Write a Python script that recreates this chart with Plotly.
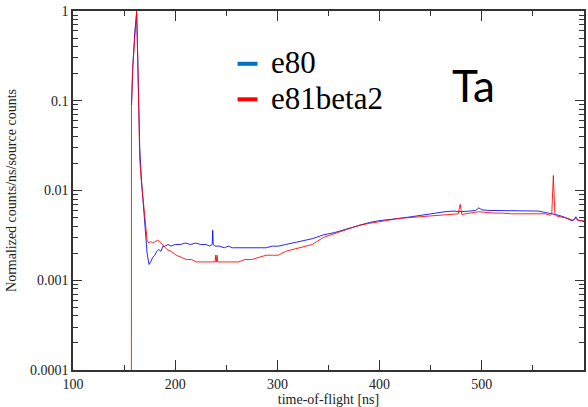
import plotly.graph_objects as go

# ---- data ----
tof_e80 = [157.3, 158.5, 160.4, 161.5, 162.3, 163.2, 164.4, 165.3, 167, 169.5, 171, 172.5, 174.4,
           176, 178, 180, 182, 184, 186, 188, 190, 193, 196, 200, 205, 210, 215, 220, 225, 230, 234,
           236.2, 236.7, 237.2, 239, 243, 248, 252, 256, 262, 268, 275, 282, 289, 295, 301, 308, 315,
           322, 334, 345, 356, 367, 380, 390, 399, 410, 420, 431, 440, 448, 456, 464, 472, 480, 488,
           494, 497, 500, 506, 512, 520, 529, 536, 542, 548, 555, 562, 566, 570, 575, 580, 584, 588,
           590, 592, 594, 597, 600]
val_e80 = [0.09, 0.24, 0.57, 0.85, 0.95, 0.35, 0.08, 0.03, 0.013, 0.006, 0.0038, 0.002, 0.0015,
           0.0016, 0.0018, 0.0019, 0.0021, 0.0022, 0.0021, 0.0024, 0.0024, 0.0025, 0.0024, 0.0025,
           0.0025, 0.0026, 0.0025, 0.0026, 0.0025, 0.0025, 0.0024,
           0.0025, 0.0036, 0.0025, 0.0024, 0.0024, 0.0023, 0.0024, 0.0023, 0.0023, 0.0023, 0.0023,
           0.0023, 0.0023, 0.0024, 0.0024, 0.0025, 0.0026,
           0.0027, 0.0029, 0.0032, 0.0034, 0.0037, 0.0041, 0.0044, 0.0046, 0.0048, 0.0049, 0.0051,
           0.0053, 0.0055, 0.0056, 0.0058, 0.0059, 0.0058, 0.0059,
           0.0060, 0.0064, 0.0061, 0.0060, 0.0060, 0.0060, 0.0059, 0.0059, 0.0060, 0.0059, 0.0059,
           0.0057, 0.0056, 0.0055, 0.0053, 0.0051, 0.0048, 0.0046,
           0.0047, 0.0051, 0.0047, 0.0046, 0.0045]

tof_e81 = [157.1, 157.2, 158.5, 160.4, 161.5, 162.3, 163.2, 164.4, 165.3, 167, 169.5, 171, 172.5, 174,
           176, 178, 180, 183, 186, 189, 192, 196, 201, 206, 211, 216, 220.5, 225, 230, 235, 238,
           239, 239.6, 240.2, 241, 241.6, 246, 251, 256, 262, 268, 275, 282, 289, 295, 301, 308, 315,
           322, 334, 345, 356, 367, 380, 390, 399, 410, 420, 431, 440, 448, 456, 464, 472, 477, 478.8,
           480.5, 484, 490, 497, 505, 512, 520, 529, 540, 550, 558, 562, 567, 568.5, 570, 571.5,
           573, 578, 584, 588, 590, 592, 594, 597, 600]
val_e81 = [1e-6, 0.09, 0.24, 0.57, 0.9, 1.0, 0.35, 0.08, 0.022, 0.0123, 0.006, 0.0035, 0.0028, 0.0026,
           0.0027, 0.0026, 0.0027, 0.0028, 0.0026, 0.0024, 0.0022, 0.0021, 0.0019, 0.0018, 0.0017,
           0.0017, 0.0016, 0.0016, 0.0016, 0.0016, 0.0016,
           0.0016, 0.0019, 0.0016, 0.0019, 0.0016, 0.0016, 0.0016, 0.00158, 0.0016, 0.0017, 0.0017,
           0.0018, 0.0019, 0.0019, 0.0019, 0.0021, 0.0022, 0.0023,
           0.0025, 0.0030, 0.0033, 0.0037, 0.0041, 0.0043, 0.0045, 0.0047, 0.0049, 0.0050, 0.0051,
           0.0052, 0.0053, 0.0054, 0.0054, 0.0055, 0.0070,
           0.0054, 0.0055, 0.0056, 0.0058, 0.0057, 0.0056, 0.0056, 0.0055, 0.0055, 0.0055, 0.0055,
           0.0055, 0.0053, 0.0055, 0.0147, 0.0055,
           0.0052, 0.0051, 0.0049, 0.0047, 0.0047, 0.0049, 0.0046, 0.0046, 0.0046]

series_names = ["e80", "e81beta2"]
legend_colors = ["#0070C0", "#FF0000"]
line_colors = ["rgba(0,0,255,0.85)", "rgba(255,0,0,0.85)"]

y_ticks = [1e-4, 1e-3, 1e-2, 1e-1, 1]
y_ticktext = ["0.0001", "0.001", "0.01", "0.1", "1"]
y_minor = [m * 10 ** e for e in range(-4, 0) for m in range(2, 10)]
x_ticks = [100, 200, 300, 400, 500, 600]
x_minor = [150, 250, 350, 450, 550]

serif = "Liberation Serif"

fig = go.Figure()
fig.add_trace(go.Scatter(x=tof_e80, y=val_e80, mode="lines", name=series_names[0],
                         line=dict(color=line_colors[0], width=1)))
fig.add_trace(go.Scatter(x=tof_e81, y=val_e81, mode="lines", name=series_names[1],
                         line=dict(color=line_colors[1], width=1)))

axis_common = dict(showgrid=False, zeroline=False, showline=True, linecolor="#333333",
                   linewidth=1.5, mirror="ticks", ticks="inside", tickcolor="#333333",
                   tickwidth=1.2, tickfont=dict(family=serif, size=14, color="#222222"))

fig.update_xaxes(range=[100, 600], tickvals=x_ticks, ticklen=10,
                 minor=dict(tickvals=x_minor, ticks="inside", ticklen=5, tickcolor="#333333"),
                 title=dict(text="time-of-flight [ns]", font=dict(family=serif, size=14, color="#222222"),
                            standoff=0),
                 **axis_common)
fig.update_yaxes(type="log", range=[-4, 0], tickvals=y_ticks, ticktext=y_ticktext, ticklen=9,
                 minor=dict(tickvals=y_minor, ticks="inside", ticklen=5, tickcolor="#333333"),
                 title=dict(text="Normalized counts/ns/source counts",
                            font=dict(family=serif, size=14, color="#222222"), standoff=10),
                 **axis_common)

# legend drawn as overlay (line samples + labels)
leg_y = [0.856, 0.757]
for name, col, yy in zip(series_names, legend_colors, leg_y):
    fig.add_shape(type="line", xref="paper", yref="paper", x0=0.322, x1=0.361, y0=yy - 0.003,
                  y1=yy - 0.003, line=dict(color=col, width=4))
    fig.add_annotation(text=name, xref="paper", yref="paper", x=0.384, y=yy, xanchor="left",
                       yanchor="middle", showarrow=False,
                       font=dict(family=serif, size=31, color="#000000"))

fig.add_annotation(text="Ta", xref="paper", yref="paper", x=0.737, y=0.794, xanchor="left",
                   yanchor="middle", showarrow=False,
                   font=dict(family="Lato", size=44, color="#000000"))

fig.update_layout(width=588, height=407, margin=dict(l=73, r=2, t=11, b=37),
                  paper_bgcolor="white", plot_bgcolor="white", showlegend=False)

fig.write_html("out.html")
